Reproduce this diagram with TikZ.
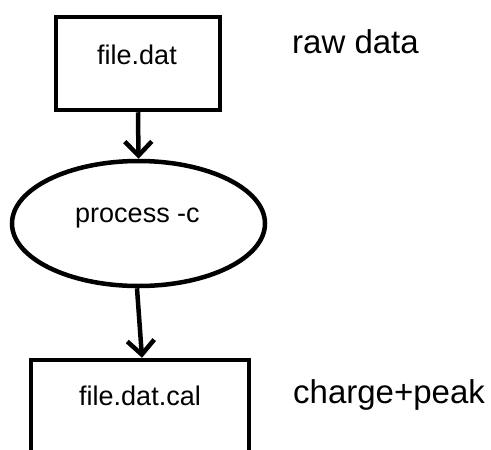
\documentclass[tikz,border=0pt]{standalone}
\usepackage{fontspec}
\setmainfont{Liberation Sans}
\usetikzlibrary{shapes.geometric,arrows.meta}
\begin{document}
\begin{tikzpicture}[x=1pt,y=1pt,
  boxshape/.style={draw=black,line width=4.5pt,rectangle,inner sep=0pt},
  ellshape/.style={draw=black,line width=4.5pt,ellipse,inner sep=0pt,minimum width=253pt,minimum height=125pt},
  intext/.style={inner sep=0pt,anchor=base,font=\fontsize{27}{32}\selectfont},
  sidetext/.style={inner sep=0pt,anchor=base west,font=\fontsize{33}{38}\selectfont},
  flow/.style={line width=4.5pt,-{Straight Barb[length=14pt,width=27pt,line width=4.5pt]}}]
\useasboundingbox (0,0) rectangle (491,-450);
\clip (0,0) rectangle (491,-450);
\node[boxshape,minimum width=164pt,minimum height=93pt] (b1) at (138,-63.5) {};
\node[intext] (t1) at (137,-64) {file.dat};
\node[ellshape] (e) at (138.5,-223.5) {};
\node[intext] (te) at (137.5,-222.7) {process -c};
\node[boxshape,minimum width=218pt,minimum height=110pt] (b2) at (140,-415) {};
\node[intext] (t2) at (140,-405) {file.dat.cal};
\node[sidetext] (r1) at (292,-53) {raw data};
\node[sidetext] (r2) at (293,-403) {charge+peak};
\draw[flow] (b1.south) -- (e.north);
\draw[flow] ([xshift=-1.5pt]e.south) -- ([xshift=2pt]b2.north);
\end{tikzpicture}
\end{document}
